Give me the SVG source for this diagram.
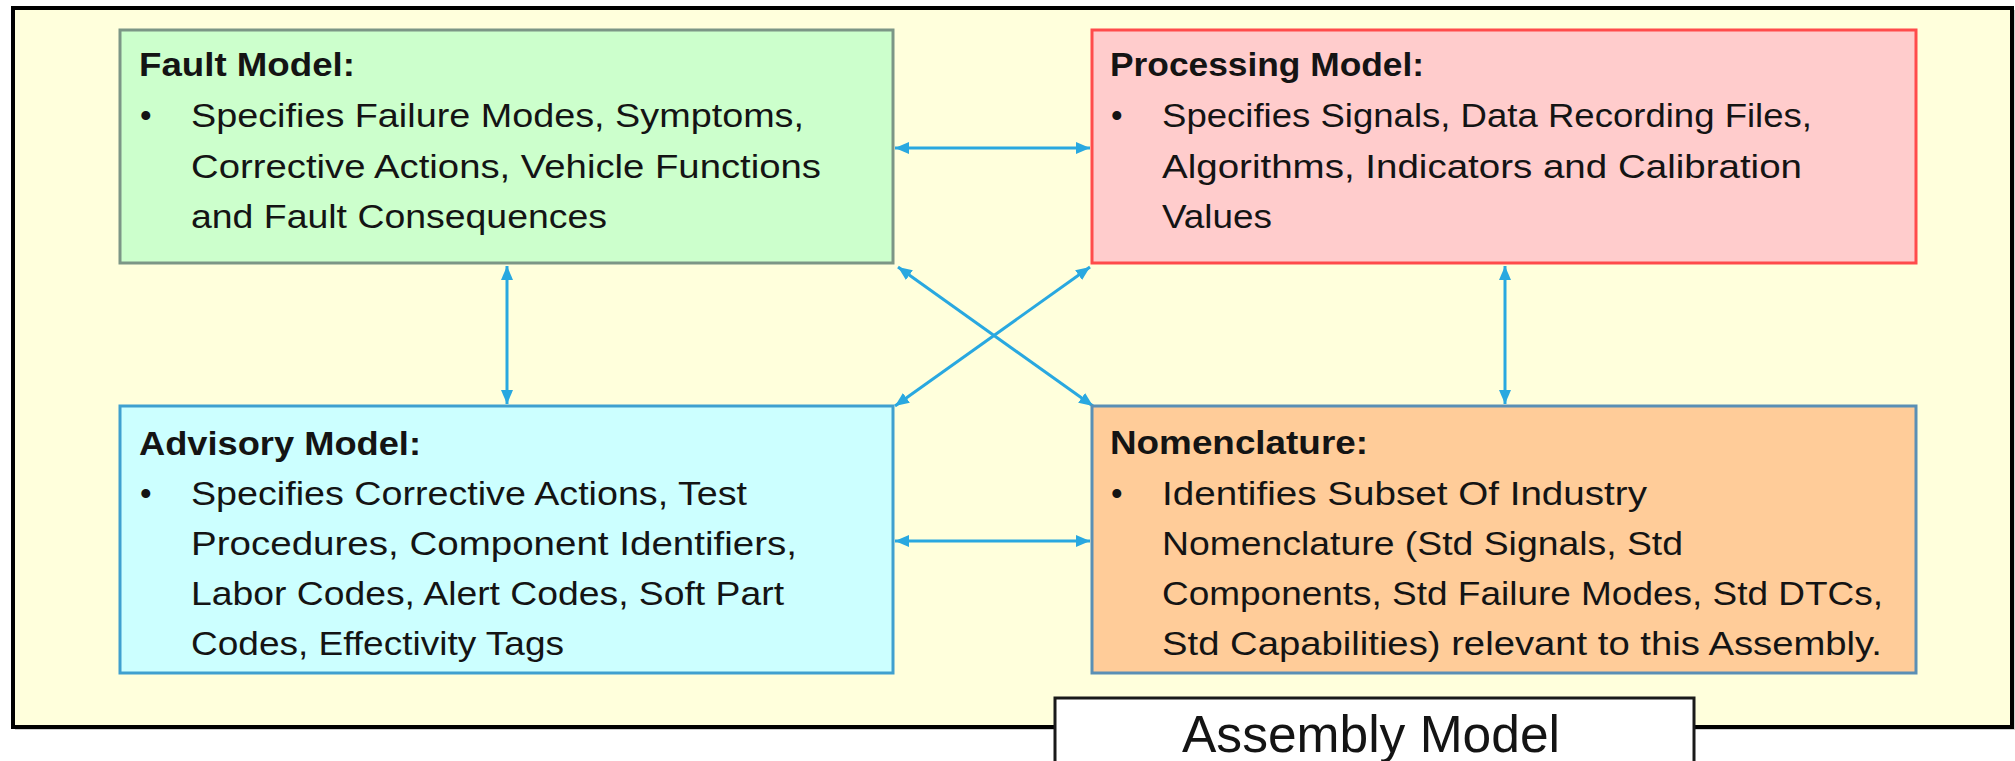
<svg xmlns="http://www.w3.org/2000/svg" width="2015" height="761" viewBox="0 0 2015 761">
<style>
  text { font-family: "Liberation Sans", Arial, sans-serif; fill: #141414; }
  .title { font-size: 33px; font-weight: bold; }
  .body { font-size: 33px; }
  .conn { stroke: #29A8E0; stroke-width: 3; fill: none; marker-start: url(#ah); marker-end: url(#ah); }
  .label { font-size: 52px; }
</style>
<defs>
  <marker id="ah" viewBox="0 0 14 12" refX="14" refY="6" markerWidth="14" markerHeight="12" markerUnits="userSpaceOnUse" orient="auto-start-reverse">
    <path d="M0,0 L14,6 L0,12 Z" fill="#29A8E0"/>
  </marker>
</defs>
<rect width="2015" height="761" fill="#FFFFFF"/>
<g id="frame">
  <rect x="15" y="10" width="2000" height="720" fill="#A0A0A0" opacity="0.5"/>
  <rect x="13" y="8" width="1999" height="719" fill="#FFFFDC" stroke="#000000" stroke-width="4"/>
</g>
<g id="connectors">
  <line class="conn" x1="895" y1="148" x2="1090" y2="148"/>
  <line class="conn" x1="895" y1="541" x2="1090" y2="541"/>
  <line class="conn" x1="507" y1="266" x2="507" y2="404"/>
  <line class="conn" x1="1505" y1="266" x2="1505" y2="404"/>
  <line class="conn" x1="898" y1="267" x2="1093" y2="406"/>
  <line class="conn" x1="1090" y1="267" x2="895" y2="406"/>
</g>
<g id="fault-model">
  <rect x="120" y="30" width="773" height="233" fill="#CCFFCC" stroke="#7C9686" stroke-width="3"/>
  <text class="title" x="139" y="76" textLength="216" lengthAdjust="spacingAndGlyphs">Fault Model:</text>
  <text class="body" x="140" y="127">•</text>
  <text class="body" x="191" y="127" textLength="613" lengthAdjust="spacingAndGlyphs">Specifies Failure Modes, Symptoms,</text>
  <text class="body" x="191" y="178" textLength="630" lengthAdjust="spacingAndGlyphs">Corrective Actions, Vehicle Functions</text>
  <text class="body" x="191" y="228" textLength="416" lengthAdjust="spacingAndGlyphs">and Fault Consequences</text>
</g>
<g id="processing-model">
  <rect x="1092" y="30" width="824" height="233" fill="#FFCCCC" stroke="#FF4B4B" stroke-width="3"/>
  <text class="title" x="1110" y="76" textLength="314" lengthAdjust="spacingAndGlyphs">Processing Model:</text>
  <text class="body" x="1111" y="127">•</text>
  <text class="body" x="1162" y="127" textLength="650" lengthAdjust="spacingAndGlyphs">Specifies Signals, Data Recording Files,</text>
  <text class="body" x="1162" y="178" textLength="640" lengthAdjust="spacingAndGlyphs">Algorithms, Indicators and Calibration</text>
  <text class="body" x="1162" y="228" textLength="110" lengthAdjust="spacingAndGlyphs">Values</text>
</g>
<g id="advisory-model">
  <rect x="120" y="406" width="773" height="267" fill="#CCFFFF" stroke="#3FA0CF" stroke-width="3"/>
  <text class="title" x="139" y="455" textLength="282" lengthAdjust="spacingAndGlyphs">Advisory Model:</text>
  <text class="body" x="140" y="505">•</text>
  <text class="body" x="191" y="505" textLength="556" lengthAdjust="spacingAndGlyphs">Specifies Corrective Actions, Test</text>
  <text class="body" x="191" y="555" textLength="606" lengthAdjust="spacingAndGlyphs">Procedures, Component Identifiers,</text>
  <text class="body" x="191" y="605" textLength="593" lengthAdjust="spacingAndGlyphs">Labor Codes, Alert Codes, Soft Part</text>
  <text class="body" x="191" y="655" textLength="373" lengthAdjust="spacingAndGlyphs">Codes, Effectivity Tags</text>
</g>
<g id="nomenclature">
  <rect x="1092" y="406" width="824" height="267" fill="#FFCC99" stroke="#5A8FB5" stroke-width="3"/>
  <text class="title" x="1110" y="454" textLength="258" lengthAdjust="spacingAndGlyphs">Nomenclature:</text>
  <text class="body" x="1111" y="505">•</text>
  <text class="body" x="1162" y="505" textLength="485" lengthAdjust="spacingAndGlyphs">Identifies Subset Of Industry</text>
  <text class="body" x="1162" y="555" textLength="521" lengthAdjust="spacingAndGlyphs">Nomenclature (Std Signals, Std</text>
  <text class="body" x="1162" y="605" textLength="721" lengthAdjust="spacingAndGlyphs">Components, Std Failure Modes, Std DTCs,</text>
  <text class="body" x="1162" y="655" textLength="720" lengthAdjust="spacingAndGlyphs">Std Capabilities) relevant to this Assembly.</text>
</g>
<g id="assembly-model-label">
  <rect x="1055" y="698" width="639" height="70" fill="#FFFFFF" stroke="#1A1A1A" stroke-width="3"/>
  <text class="label" x="1182" y="752" textLength="378" lengthAdjust="spacingAndGlyphs">Assembly Model</text>
</g>
</svg>
